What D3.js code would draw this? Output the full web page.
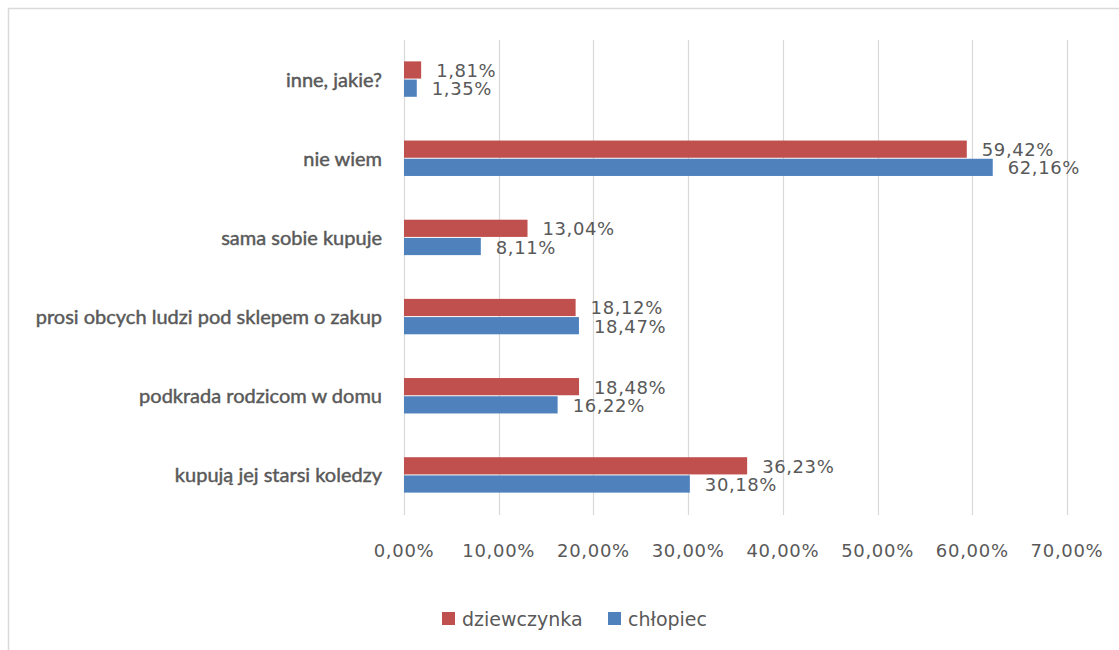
<!DOCTYPE html>
<html>
<head>
<meta charset="utf-8">
<script src="https://cdn.jsdelivr.net/npm/d3@7"></script>
<style>
  body { margin: 0; background: #fff; }
  svg { display: block; }
</style>
</head>
<body>
<div id="vis"></div>
<script>
// categories, top to bottom
var categories = [
  'inne, jakie?',
  'nie wiem',
  'sama sobie kupuje',
  'prosi obcych ludzi pod sklepem o zakup',
  'podkrada rodzicom w domu',
  'kupują jej starsi koledzy'
];
var seriesNames = ['dziewczynka', 'chłopiec'];
var girls = [1.81, 59.42, 13.04, 18.12, 18.48, 36.23];
var boys = [1.35, 62.16, 8.11, 18.47, 16.22, 30.18];
var ticks = [0, 10, 20, 30, 40, 50, 60, 70];

var colors = { 'dziewczynka': '#c0504d', 'chłopiec': '#4f81bd' };
var textColor = '#595959';

var width = 1119;
var height = 650;
var margin = { top: 40, left: 404, right: 1119 - 1067, bottom: 650 - 515 };

function fmt(v) {
  return v.toFixed(2).replace('.', ',') + '%';
}

var svg = d3.select('#vis').append('svg')
  .attr('width', width)
  .attr('height', height);

// outer chart border
svg.append('rect')
  .attr('x', 8.5).attr('y', 8.5)
  .attr('width', width).attr('height', height)
  .attr('fill', 'none')
  .attr('stroke', '#d9d9d9')
  .attr('stroke-width', 1.5);

var x = d3.scaleLinear()
  .domain([0, 70])
  .range([margin.left, width - margin.right]);

var y = d3.scaleBand()
  .domain(categories)
  .range([margin.top, height - margin.bottom])
  .paddingInner(0.54)
  .paddingOuter(0.27);

var ySub = d3.scaleBand()
  .domain(seriesNames)
  .range([0, y.bandwidth()]);

// gridlines
svg.append('g').selectAll('line')
  .data(ticks)
  .join('line')
  .attr('x1', function (d) { return Math.round(x(d)) + 0.5; })
  .attr('x2', function (d) { return Math.round(x(d)) + 0.5; })
  .attr('y1', margin.top)
  .attr('y2', height - margin.bottom)
  .attr('stroke', '#d9d9d9')
  .attr('stroke-width', 1.2);

// x tick labels
svg.append('g').selectAll('text')
  .data(ticks)
  .join('text')
  .attr('x', function (d) { return x(d); })
  .attr('y', 557)
  .attr('text-anchor', 'middle')
  .attr('font-family', 'DejaVu Sans, Verdana, sans-serif')
  .attr('font-size', 18)
  .attr('letter-spacing', 0.7)
  .attr('fill', textColor)
  .text(function (d) { return fmt(d); });

// category labels
svg.append('g').selectAll('text')
  .data(categories)
  .join('text')
  .attr('x', 382)
  .attr('y', function (d) { return y(d) + y.bandwidth() / 2; })
  .attr('dy', '0.35em')
  .attr('text-anchor', 'end')
  .attr('font-family', 'Lato, "Open Sans", sans-serif')
  .attr('font-size', 20)
  .attr('fill', textColor)
  .attr('stroke', textColor)
  .attr('stroke-width', 0.45)
  .text(function (d) { return d; });

var rows = [];
categories.forEach(function (c, i) {
  rows.push({ cat: c, series: 'dziewczynka', value: girls[i] });
  rows.push({ cat: c, series: 'chłopiec', value: boys[i] });
});

// bars
svg.append('g').selectAll('rect')
  .data(rows)
  .join('rect')
  .attr('x', x(0))
  .attr('y', function (d) { return y(d.cat) + ySub(d.series); })
  .attr('width', function (d) { return x(d.value) - x(0); })
  .attr('height', ySub.bandwidth() - 1)
  .attr('fill', function (d) { return colors[d.series]; });

// value labels
svg.append('g').selectAll('text')
  .data(rows)
  .join('text')
  .attr('x', function (d) { return x(d.value) + 15; })
  .attr('y', function (d) { return y(d.cat) + ySub(d.series) + ySub.bandwidth() / 2; })
  .attr('dy', '0.36em')
  .attr('font-family', 'DejaVu Sans, Verdana, sans-serif')
  .attr('font-size', 18)
  .attr('letter-spacing', 0.6)
  .attr('fill', textColor)
  .text(function (d) { return fmt(d.value); });

// legend
var legendX = [442, 608];
var legend = svg.append('g').selectAll('g')
  .data(seriesNames)
  .join('g')
  .attr('transform', function (d, i) { return 'translate(' + legendX[i] + ',612)'; });

legend.append('rect')
  .attr('width', 13).attr('height', 13)
  .attr('fill', function (d) { return colors[d]; });

legend.append('text')
  .attr('x', 20)
  .attr('y', 7)
  .attr('dy', '0.36em')
  .attr('font-family', 'DejaVu Sans, Verdana, sans-serif')
  .attr('font-size', 19)
  .attr('fill', textColor)
  .text(function (d) { return d; });
</script>
</body>
</html>
